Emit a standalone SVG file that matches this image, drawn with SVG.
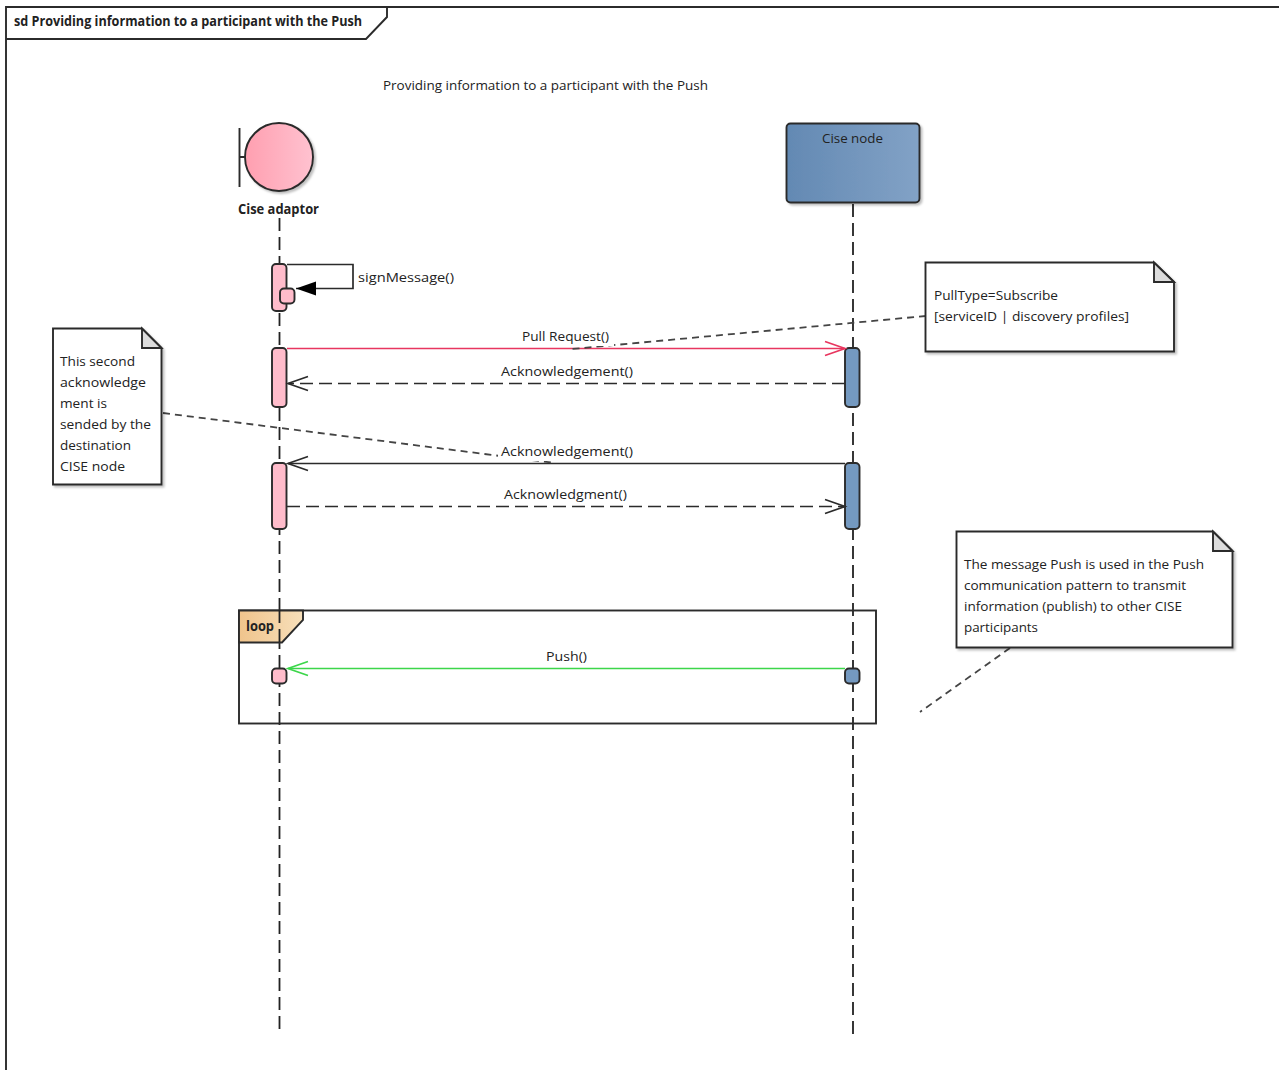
<svg xmlns="http://www.w3.org/2000/svg" width="1279" height="1070" viewBox="0 0 1279 1070">
<style>
text{font-family:"Open Sans","Noto Sans","Liberation Sans",sans-serif;font-size:13.5px;fill:#222}
.b{font-weight:bold}
.life{fill:none;stroke:#222;stroke-width:1.8;stroke-dasharray:13 6}
.box{stroke:#2b2b2b;stroke-width:1.9}
.pink{fill:#ffbccb}
.blue{fill:#7499c0}
.note{fill:#fff;stroke:#2b2b2b;stroke-width:1.9;filter:url(#sh)}
.fold{fill:#dcdcdc;stroke:#2b2b2b;stroke-width:1.9}
.msg{fill:none;stroke:#2b2b2b;stroke-width:1.7}
.dash{stroke-dasharray:13 6}
.link{fill:none;stroke:#444;stroke-width:1.8;stroke-dasharray:7 5}
</style>
<defs>
<linearGradient id="gp" x1="0" x2="1" y1="0" y2="0"><stop offset="0" stop-color="#ff9fb0"/><stop offset="1" stop-color="#ffc2d0"/></linearGradient>
<linearGradient id="gb" x1="0" x2="1" y1="0" y2="0"><stop offset="0" stop-color="#6389b3"/><stop offset="1" stop-color="#82a2c6"/></linearGradient>
<linearGradient id="go" x1="0" x2="1" y1="0" y2="0"><stop offset="0" stop-color="#f0c48c"/><stop offset="1" stop-color="#f7dfba"/></linearGradient>
<filter id="sh" x="-5%" y="-5%" width="115%" height="115%"><feDropShadow dx="2" dy="2" stdDeviation="1.2" flood-color="#000" flood-opacity="0.25"/></filter>
<marker id="openK" markerUnits="userSpaceOnUse" markerWidth="24" markerHeight="18" refX="21" refY="9" orient="auto"><path d="M1 2L21 9L1 16" fill="none" stroke="#2b2b2b" stroke-width="1.7"/></marker>
<marker id="openR" markerUnits="userSpaceOnUse" markerWidth="24" markerHeight="18" refX="21" refY="9" orient="auto"><path d="M1 2L21 9L1 16" fill="none" stroke="#e8365f" stroke-width="1.7"/></marker>
<marker id="openG" markerUnits="userSpaceOnUse" markerWidth="24" markerHeight="18" refX="21" refY="9" orient="auto"><path d="M1 2L21 9L1 16" fill="none" stroke="#3cd64a" stroke-width="1.7"/></marker>
<marker id="solid" markerUnits="userSpaceOnUse" markerWidth="24" markerHeight="18" refX="21" refY="9" orient="auto"><path d="M1 2L21 9L1 16Z" fill="#000"/></marker>
</defs>
<rect width="1279" height="1070" fill="#fff"/>

<g id="frame">
<path d="M6 1070V7H1279" fill="none" stroke="#2b2b2b" stroke-width="1.9"/>
<path d="M6 39H366L387 17V7" fill="none" stroke="#2b2b2b" stroke-width="1.9"/>
<text class="b" x="14" y="26" textLength="348" lengthAdjust="spacingAndGlyphs">sd Providing information to a participant with the Push</text>
<text x="383" y="90" textLength="325" lengthAdjust="spacingAndGlyphs">Providing information to a participant with the Push</text>
</g>

<g id="lifelines">
<path class="life" d="M279.500 218V1034"/>
<path class="life" d="M853 204V1034"/>
</g>

<g id="loop">
<rect x="239" y="610.500" width="637" height="113" fill="none" class="box"/>
<path d="M239 610.500H303V620L282 642.500H239Z" fill="url(#go)" class="box"/>
<path class="life" d="M279.500 610V642"/>
<text class="b" x="246" y="631" textLength="28" lengthAdjust="spacingAndGlyphs">loop</text>
</g>

<g id="cise-adaptor">
<path d="M239.500 128V187M239.500 157H245" fill="none" stroke="#2b2b2b" stroke-width="1.9"/>
<circle cx="279" cy="157" r="34" fill="url(#gp)" class="box" filter="url(#sh)"/>
<text class="b" x="238" y="214" textLength="81" lengthAdjust="spacingAndGlyphs">Cise adaptor</text>
</g>

<g id="cise-node">
<rect x="786.500" y="123.500" width="133" height="79" rx="4" fill="url(#gb)" class="box" filter="url(#sh)"/>
<text x="822" y="143" textLength="61" lengthAdjust="spacingAndGlyphs">Cise node</text>
</g>

<g id="activations">
<rect class="box pink" x="272" y="264" width="14.500" height="47" rx="4"/>
<rect class="box pink" x="280" y="288.500" width="14.500" height="15" rx="4"/>
<rect class="box pink" x="272" y="348" width="14.500" height="59" rx="4"/>
<rect class="box blue" x="845" y="348" width="14.500" height="59" rx="4"/>
<rect class="box pink" x="272" y="463" width="14.500" height="66" rx="4"/>
<rect class="box blue" x="845" y="463" width="14.500" height="66" rx="4"/>
<rect class="box pink" x="272" y="668.500" width="14.500" height="15" rx="4"/>
<rect class="box blue" x="845" y="668.500" width="14.500" height="15" rx="4"/>
</g>

<g id="connectors">
<path class="msg" d="M287 264.500H353V288.500H296" marker-end="url(#solid)"/>
<path d="M287 348.500H845" fill="none" stroke="#e8365f" stroke-width="1.700" marker-end="url(#openR)"/>
<path class="msg dash" d="M845 383.500H288" marker-end="url(#openK)"/>
<path class="msg" d="M845 463.500H288" marker-end="url(#openK)"/>
<path class="msg dash" d="M287 506.500H845" marker-end="url(#openK)"/>
<path d="M845 668.500H288" fill="none" stroke="#3cd64a" stroke-width="1.700" marker-end="url(#openG)"/>
<path class="link" d="M926 316L572 349"/>
<path class="link" d="M163 413L555 463"/>
<path class="link" d="M1010 648L920 712"/>
</g>

<g id="message-labels">
<rect x="520" y="328" width="94" height="18" fill="#fff"/>
<text x="522" y="341" textLength="87" lengthAdjust="spacingAndGlyphs">Pull Request()</text>
<text x="501" y="376" textLength="132" lengthAdjust="spacingAndGlyphs">Acknowledgement()</text>
<rect x="498" y="442" width="136" height="19" fill="#fff"/>
<text x="501" y="456" textLength="132" lengthAdjust="spacingAndGlyphs">Acknowledgement()</text>
<text x="504" y="499" textLength="123" lengthAdjust="spacingAndGlyphs">Acknowledgment()</text>
<text x="546" y="661" textLength="41" lengthAdjust="spacingAndGlyphs">Push()</text>
<text x="358" y="282" textLength="96" lengthAdjust="spacingAndGlyphs">signMessage()</text>
</g>

<g id="note-pulltype">
<path class="note" d="M925.500 262.500H1154L1174 282V351.500H925.500Z"/>
<path class="fold" d="M1154 262.500V282H1174Z"/>
<text x="934" y="300" textLength="124" lengthAdjust="spacingAndGlyphs">PullType=Subscribe</text>
<text x="934" y="321" textLength="195" lengthAdjust="spacingAndGlyphs">[serviceID | discovery profiles]</text>
</g>

<g id="note-second-ack">
<path class="note" d="M53 328.500H142L161.500 348V484.500H53Z"/>
<path class="fold" d="M142 328.500V348H161.500Z"/>
<text x="60" y="366" textLength="75" lengthAdjust="spacingAndGlyphs">This second</text>
<text x="60" y="387" textLength="86" lengthAdjust="spacingAndGlyphs">acknowledge</text>
<text x="60" y="408" textLength="47" lengthAdjust="spacingAndGlyphs">ment is</text>
<text x="60" y="429" textLength="91" lengthAdjust="spacingAndGlyphs">sended by the</text>
<text x="60" y="450" textLength="71" lengthAdjust="spacingAndGlyphs">destination</text>
<text x="60" y="471" textLength="65" lengthAdjust="spacingAndGlyphs">CISE node</text>
</g>

<g id="note-push">
<path class="note" d="M956.500 531.500H1213L1232.500 551V647.500H956.500Z"/>
<path class="fold" d="M1213 531.500V551H1232.500Z"/>
<text x="964" y="569" textLength="240" lengthAdjust="spacingAndGlyphs">The message Push is used in the Push</text>
<text x="964" y="590" textLength="222" lengthAdjust="spacingAndGlyphs">communication pattern to transmit</text>
<text x="964" y="611" textLength="218" lengthAdjust="spacingAndGlyphs">information (publish) to other CISE</text>
<text x="964" y="632" textLength="74" lengthAdjust="spacingAndGlyphs">participants</text>
</g>
</svg>
